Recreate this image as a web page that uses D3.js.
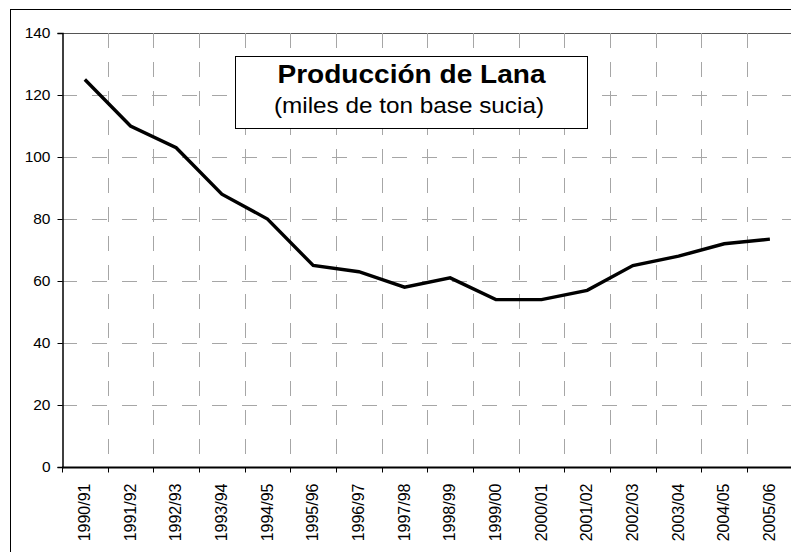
<!DOCTYPE html>
<html>
<head>
<meta charset="utf-8">
<script src="https://cdn.jsdelivr.net/npm/d3@7"></script>
<style>
  html, body { margin: 0; padding: 0; background: #fff; }
  svg { display: block; }
  text { font-family: Arial, "Liberation Sans", sans-serif; fill: #000; }
</style>
</head>
<body>
<script>
// Wool production by season (thousand tonnes, greasy basis)
const seasons = ["1990/91","1991/92","1992/93","1993/94","1994/95","1995/96","1996/97","1997/98",
                 "1998/99","1999/00","2000/01","2001/02","2002/03","2003/04","2004/05","2005/06"];
const production = [125, 110, 103, 88, 80, 65, 63, 58, 61, 54, 54, 57, 65, 68, 72, 73.5];
const yTicks = [0, 20, 40, 60, 80, 100, 120, 140];
const titleMain = "Producción de Lana";
const titleSub = "(miles de ton base sucia)";

const W = 791, H = 552;
const plot = { left: 62, top: 33, bottom: 467, right: 62 + 16 * 45.67 };

const svg = d3.select("body").append("svg").attr("width", W).attr("height", H);

// chart frame
svg.append("rect")
  .attr("x", 10.5).attr("y", 9.5).attr("width", 900).attr("height", 700)
  .attr("fill", "#fff").attr("stroke", "#000").attr("stroke-width", 1);

const x = d3.scaleBand().domain(seasons).range([plot.left, plot.right]);
const y = d3.scaleLinear().domain([0, 140]).range([plot.bottom, plot.top]);

// horizontal gridlines
svg.append("g").selectAll("line")
  .data(yTicks.filter(d => d > 0 && d < 140))
  .join("line")
  .attr("x1", plot.left).attr("x2", W)
  .attr("y1", d => Math.round(y(d)) + 0.5).attr("y2", d => Math.round(y(d)) + 0.5)
  .attr("stroke", "#a6a6a6").attr("stroke-width", 1)
  .attr("stroke-dasharray", "15,15");

// top gridline
svg.append("line")
  .attr("x1", plot.left).attr("x2", W)
  .attr("y1", Math.round(y(140)) + 0.5).attr("y2", Math.round(y(140)) + 0.5)
  .attr("stroke", "#555").attr("stroke-width", 1);

// vertical gridlines at season boundaries
svg.append("g").selectAll("line")
  .data(seasons.slice(1))
  .join("line")
  .attr("x1", d => Math.round(x(d)) + 0.5).attr("x2", d => Math.round(x(d)) + 0.5)
  .attr("y1", plot.top).attr("y2", plot.bottom)
  .attr("stroke", "#a6a6a6").attr("stroke-width", 1)
  .attr("stroke-dasharray", "15,14");

// y axis
const yAxis = svg.append("g")
  .attr("transform", `translate(${plot.left + 0.5},0)`)
  .call(d3.axisLeft(y).tickValues(yTicks).tickSize(5).tickPadding(7).tickFormat(d3.format("d")));
yAxis.select(".domain").attr("stroke", "#000").attr("stroke-width", 1.5);
yAxis.selectAll(".tick line").attr("stroke", "#000");
yAxis.selectAll("text").attr("font-size", 15.5).attr("font-family", "Arial, 'Liberation Sans', sans-serif");

// x axis: ticks on season boundaries, labels at season centres
const xAxisG = svg.append("g").attr("transform", `translate(0,${plot.bottom + 0.5})`);
xAxisG.append("line")
  .attr("x1", plot.left).attr("x2", W)
  .attr("stroke", "#000").attr("stroke-width", 2);
xAxisG.selectAll("line.tk")
  .data(seasons)
  .join("line").attr("class", "tk")
  .attr("x1", d => Math.round(x(d)) + 0.5).attr("x2", d => Math.round(x(d)) + 0.5)
  .attr("y1", 0).attr("y2", 5)
  .attr("stroke", "#000");
xAxisG.selectAll("text")
  .data(seasons)
  .join("text")
  .attr("transform", d => `translate(${x(d) + x.bandwidth() / 2 + 5},16) rotate(-90)`)
  .attr("text-anchor", "end")
  .attr("font-size", 16)
  .text(d => d);

// production line
const line = d3.line()
  .x((d, i) => x(seasons[i]) + x.bandwidth() / 2)
  .y(d => y(d));
svg.append("path")
  .datum(production)
  .attr("d", line)
  .attr("fill", "none")
  .attr("stroke", "#000")
  .attr("stroke-width", 3.4)
  .attr("stroke-linejoin", "miter");

// title box
const tb = svg.append("g");
tb.append("rect")
  .attr("x", 235.5).attr("y", 56.5).attr("width", 352).attr("height", 72)
  .attr("fill", "#fff").attr("stroke", "#000").attr("stroke-width", 1);
tb.append("text")
  .attr("x", 411.5).attr("y", 83)
  .attr("text-anchor", "middle")
  .attr("font-size", 25).attr("font-weight", "bold")
  .attr("textLength", 268).attr("lengthAdjust", "spacingAndGlyphs")
  .text(titleMain);
tb.append("text")
  .attr("x", 409).attr("y", 113)
  .attr("text-anchor", "middle")
  .attr("font-size", 22)
  .attr("textLength", 270).attr("lengthAdjust", "spacingAndGlyphs")
  .text(titleSub);
</script>
</body>
</html>
